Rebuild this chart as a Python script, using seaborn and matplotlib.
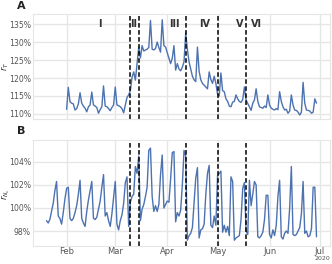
import matplotlib
matplotlib.use("Agg")
import matplotlib.pyplot as plt
import matplotlib.dates as mdates
import matplotlib.ticker as mticker
import pandas as pd
import seaborn as sns

# ---- data ----
rt_start = "2020-02-01"
rt_values = [
    111.3,
    117.4, 113.4, 113.0, 112.8, 111.1, 111.5, 112.8,
    115.9, 113.0, 112.2, 111.6, 110.6, 112.0, 112.5,
    116.1, 112.5, 112.2, 111.8, 110.2, 111.2, 112.0,
    117.8, 112.2, 112.0, 111.5, 110.9, 111.8, 112.5,
    117.5, 112.5, 112.3, 112.0, 111.5, 110.3, 112.5,
    114.6, 115.3, 116.5, 120.2, 121.7, 119.4, 124.0,
    128.6, 125.6, 129.0, 127.5, 127.8, 128.0, 128.5,
    136.0, 128.0, 127.8, 128.2, 130.0, 128.5, 127.2,
    136.2, 129.0, 128.6, 127.0, 125.5, 124.0, 125.5,
    129.0, 122.2, 124.0, 122.5, 122.0, 123.0, 124.5,
    132.5, 128.0, 124.5, 122.5, 120.5, 119.5, 119.0,
    128.6, 121.9, 119.5, 118.5, 118.0, 117.5, 117.0,
    121.7, 119.6, 118.5, 120.5, 118.5, 115.5, 115.0,
    121.4, 116.5, 116.2, 114.2, 113.5, 112.2, 112.0,
    113.3, 113.5, 115.3, 114.2, 113.5, 113.2, 114.0,
    117.5, 113.9, 112.9, 112.0, 111.0, 113.0, 113.9,
    117.0, 113.5, 112.0, 111.8, 111.6, 112.2, 111.8,
    115.3, 112.5, 111.6, 111.3, 111.1, 111.5, 111.2,
    116.2, 113.5, 112.0, 111.1, 111.3, 110.2, 110.8,
    115.3, 112.5, 111.1, 111.0, 110.5, 109.7, 110.5,
    118.8, 113.0, 111.1, 111.0, 110.8, 110.2, 110.5,
    114.2, 113.0,
]

rnc_start = "2020-01-20"
rnc_values = [
    98.9, 98.7, 99.0, 99.7, 100.4, 101.5, 102.3,
    99.3, 99.1, 98.6, 99.6, 100.8, 101.7, 101.8,
    99.1, 98.9, 99.1, 99.6, 100.2, 101.2, 102.4,
    99.1, 98.7, 98.4, 99.7, 100.7, 101.5, 102.3,
    99.1, 99.0, 99.2, 99.9, 100.6, 101.8, 102.9,
    99.3, 99.6, 98.9, 98.4, 99.5, 100.9, 102.3,
    98.6, 98.1, 98.9, 99.4, 100.4, 102.2, 102.7,
    98.4, 100.5, 101.0, 101.2, 103.6, 103.0, 104.5,
    98.9, 99.9, 100.3, 101.0, 101.8, 105.0, 105.2,
    101.0, 99.7, 100.2, 99.7, 100.3, 102.9, 104.6,
    100.0, 100.3, 100.6, 100.5, 102.5, 104.8, 104.9,
    98.8, 99.6, 99.3, 99.8, 102.0, 105.0, 104.5,
    97.2, 97.6, 97.8, 98.3, 100.5, 102.6, 103.5,
    97.4, 98.1, 98.2, 98.6, 101.2, 103.0, 103.7,
    98.5, 98.3, 99.3, 98.5, 102.8, 103.0, 103.2,
    97.9, 98.5, 97.9, 98.4, 97.6, 102.7, 102.3,
    97.2, 97.4, 97.5, 97.6, 99.0, 101.7, 102.2,
    98.0, 97.7, 102.4, 100.2, 101.2, 102.3, 102.0,
    97.5, 97.4, 97.6, 97.9, 99.0, 101.1, 101.1,
    97.7, 97.4, 98.1, 97.6, 98.5, 101.0, 102.4,
    97.5, 97.3, 97.8, 98.0, 97.8, 100.0, 103.6,
    97.7, 97.6, 97.7, 98.0, 98.3, 99.5, 102.3,
    97.8, 98.0, 97.5, 97.6, 98.2, 101.8, 101.8,
    97.5,
]

phase_dates = ["2020-03-10", "2020-03-15", "2020-04-12", "2020-05-01", "2020-05-18"]
phase_labels = ["I", "II", "III", "IV", "V", "VI"]
phase_label_dates = ["2020-02-21", "2020-03-12", "2020-04-05",
                     "2020-04-23", "2020-05-14", "2020-05-24"]
rt_ticks = [110, 115, 120, 125, 130, 135]
rnc_ticks = [98, 100, 102, 104]
year_label = "2020"

rt_df = pd.DataFrame({"date": pd.date_range(rt_start, periods=len(rt_values), freq="D"),
                      "value": rt_values})
rnc_df = pd.DataFrame({"date": pd.date_range(rnc_start, periods=len(rnc_values), freq="D"),
                       "value": rnc_values})

# ---- style ----
sns.set_theme(style="whitegrid")
plt.rcParams["font.family"] = ["DejaVu Sans"]
plt.rcParams["grid.color"] = "#e6e6e6"
plt.rcParams["axes.edgecolor"] = "#e6e6e6"

line_color = "#4c72b0"
tick_color = "#555555"

fig = plt.figure(figsize=(3.32, 2.64), dpi=100)
ax1 = fig.add_axes([33 / 332, 1 - 119 / 264, 297 / 332, 105 / 264])
ax2 = fig.add_axes([33 / 332, 1 - 246 / 264, 297 / 332, 106 / 264], sharex=ax1)

sns.lineplot(data=rt_df, x="date", y="value", ax=ax1, color=line_color, linewidth=1.0)
sns.lineplot(data=rnc_df, x="date", y="value", ax=ax2, color=line_color, linewidth=1.0)

pct = mticker.FuncFormatter(lambda v, p: f"{v:.0f}%")
for ax, ticks in ((ax1, rt_ticks), (ax2, rnc_ticks)):
    ax.set_yticks(ticks)
    ax.yaxis.set_major_formatter(pct)
    ax.tick_params(axis="both", labelsize=5.6, colors=tick_color, pad=1.5, length=0)
    ax.set_xlabel("")
    ax.set_ylabel("")
    for d in phase_dates:
        ax.axvline(pd.Timestamp(d), color="black", linestyle="--", linewidth=1.1,
                   dashes=(3, 1.6))
    for s in ax.spines.values():
        s.set_linewidth(0.8)

ax1.set_ylim(108.6, 137.8)
ax2.set_ylim(96.7, 105.9)

locator = mdates.MonthLocator()
ax2.xaxis.set_major_locator(locator)
ax2.xaxis.set_major_formatter(mdates.ConciseDateFormatter(locator))
ax2.xaxis.get_offset_text().set_visible(False)
ax2.tick_params(axis="x", pad=1.0, labelsize=6)
ax1.tick_params(axis="x", labelbottom=False)
fig.text(322 / 332, 1 - 259 / 264, year_label, ha="center", va="center",
         fontsize=4.5, color=tick_color)

# y-axis labels as rotated figure texts placed near the left edge
fig.text(5.5 / 332, 1 - 66 / 264, r"$r_T$", rotation=90, ha="center", va="center",
         fontsize=6, color="#333333")
fig.text(5.5 / 332, 1 - 194 / 264, r"$r_{N_c}$", rotation=90, ha="center", va="center",
         fontsize=6, color="#333333")

for lab, d in zip(phase_labels, phase_label_dates):
    ax1.text(pd.Timestamp(d), 135, lab, ha="center", va="center",
             fontsize=7, fontweight="bold", color="#333333")

fig.text(21 / 332, 1 - 6 / 264, "A", ha="center", va="center", fontsize=8,
         fontweight="bold", color="#222222")
fig.text(21 / 332, 1 - 131 / 264, "B", ha="center", va="center", fontsize=8,
         fontweight="bold", color="#222222")

fig.savefig("out.png", dpi=100)
